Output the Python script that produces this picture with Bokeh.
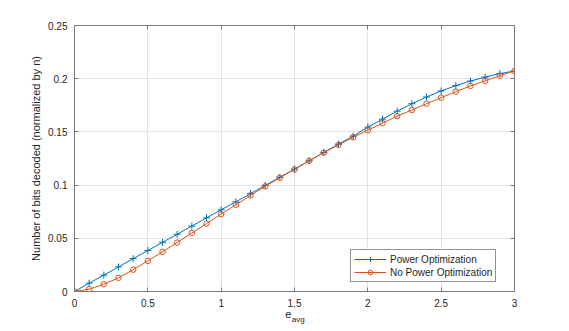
from bokeh.plotting import figure
from bokeh.models import Range1d, FixedTicker, LinearAxis, Legend, LegendItem
from bokeh.embed import file_html
from bokeh.resources import INLINE

e_avg = [0.0, 0.1, 0.2, 0.3, 0.4, 0.5, 0.6, 0.7, 0.8, 0.9, 1.0, 1.1, 1.2, 1.3, 1.4, 1.5,
         1.6, 1.7, 1.8, 1.9, 2.0, 2.1, 2.2, 2.3, 2.4, 2.5, 2.6, 2.7, 2.8, 2.9, 3.0]
power_opt = [0.0, 0.0078, 0.0154, 0.0231, 0.0309, 0.0385, 0.0462, 0.0538, 0.0615, 0.0692,
             0.0768, 0.0843, 0.0920, 0.0997, 0.1074, 0.1150, 0.1228, 0.1307, 0.1385, 0.1460,
             0.1545, 0.1620, 0.1695, 0.1765, 0.1828, 0.1885, 0.1935, 0.1978, 0.2015, 0.2048, 0.2073]
no_power_opt = [0.0, 0.0022, 0.0068, 0.0128, 0.0205, 0.0288, 0.0373, 0.0460, 0.0550, 0.0638,
                0.0727, 0.0815, 0.0903, 0.0988, 0.1070, 0.1148, 0.1228, 0.1305, 0.1378, 0.1450,
                0.1516, 0.1582, 0.1648, 0.1706, 0.1765, 0.1822, 0.1878, 0.1932, 0.1980, 0.2028, 0.2073]
x_ticks = [0, 0.5, 1, 1.5, 2, 2.5, 3]
x_tick_labels = ["0", "0.5", "1", "1.5", "2", "2.5", "3"]
y_ticks = [0, 0.05, 0.1, 0.15, 0.2, 0.25]
y_tick_labels = ["0", "0.05", "0.1", "0.15", "0.2", "0.25"]
x_label_main = "e"
x_label_sub = "avg"

FONT = "Liberation Sans"
BLUE = "#0072BD"
ORANGE = "#D95319"
AXIS_COLOR = "#7a7a7a"
TEXT_COLOR = "#262626"

p = figure(frame_width=440, frame_height=266, output_backend="svg", toolbar_location=None,
           x_range=Range1d(0, 3), y_range=Range1d(0, 0.25),
           min_border_left=74, min_border_right=47, min_border_top=25, min_border_bottom=10)
p.outline_line_color = None
p.background_fill_color = "white"
p.border_fill_color = "white"

for g in (p.xgrid, p.ygrid):
    g.grid_line_color = "#e3e3e3"
    g.grid_line_width = 1
p.xgrid.ticker = FixedTicker(ticks=x_ticks)
p.ygrid.ticker = FixedTicker(ticks=y_ticks)

def style_axis(ax, ticks, labels, show_labels=True):
    ax.ticker = FixedTicker(ticks=ticks)
    ax.major_label_overrides = {t: l for t, l in zip(ticks, labels)}
    ax.axis_line_color = AXIS_COLOR
    ax.major_tick_line_color = AXIS_COLOR
    ax.major_tick_in = 4
    ax.major_tick_out = 0
    ax.minor_tick_line_color = None
    ax.major_label_text_font = FONT
    ax.major_label_text_font_size = "10px"
    ax.major_label_text_color = TEXT_COLOR
    if not show_labels:
        ax.major_label_text_alpha = 0
        ax.major_label_text_font_size = "1px"
        ax.major_label_standoff = 0

style_axis(p.xaxis[0], x_ticks, x_tick_labels)
style_axis(p.yaxis[0], y_ticks, y_tick_labels)
p.xaxis[0].major_label_standoff = 7
p.yaxis[0].major_label_standoff = 7
p.yaxis[0].axis_label = "Number of bits decoded (normalized by n)"
p.yaxis[0].axis_label_text_font = FONT
p.yaxis[0].axis_label_text_font_size = "11px"
p.yaxis[0].axis_label_text_font_style = "normal"
p.yaxis[0].axis_label_text_color = TEXT_COLOR
p.yaxis[0].axis_label_standoff = 3

top = LinearAxis()
right = LinearAxis()
style_axis(top, x_ticks, x_tick_labels, show_labels=False)
style_axis(right, y_ticks, y_tick_labels, show_labels=False)
p.add_layout(top, "above")
p.add_layout(right, "right")

# x label "e" with subscript "avg", drawn as tick labels of two bare axes below
def label_axis(xpos, text, size, standoff):
    ax = LinearAxis(ticker=FixedTicker(ticks=[xpos]), major_label_overrides={xpos: text})
    ax.axis_line_color = None
    ax.major_tick_line_color = None
    ax.minor_tick_line_color = None
    ax.major_tick_in = 0
    ax.major_tick_out = 0
    ax.major_label_text_font = FONT
    ax.major_label_text_font_size = size
    ax.major_label_text_color = TEXT_COLOR
    ax.major_label_standoff = standoff
    return ax

p.add_layout(label_axis(1.457, x_label_main, "11px", 0), "below")
p.add_layout(label_axis(1.525, x_label_sub, "8px", -6), "below")

l1 = p.line(e_avg, power_opt, line_color=BLUE, line_width=1)
m1 = p.scatter(e_avg, power_opt, marker="cross", size=7, line_color=BLUE, line_width=1)
l2 = p.line(e_avg, no_power_opt, line_color=ORANGE, line_width=1)
m2 = p.scatter(e_avg, no_power_opt, marker="circle", size=5.5, line_color=ORANGE,
               fill_color=None, line_width=1)

legend = Legend(items=[LegendItem(label="Power Optimization", renderers=[l1, m1]),
                       LegendItem(label="No Power Optimization", renderers=[l2, m2])],
                location=(276, 9))
legend.label_text_font = FONT
legend.label_text_font_size = "10px"
legend.label_text_color = TEXT_COLOR
legend.glyph_width = 32
legend.glyph_height = 12
legend.label_height = 12
legend.label_standoff = 4
legend.spacing = 1
legend.padding = 3
legend.margin = 0
legend.border_line_color = "#262626"
legend.border_line_width = 1
legend.background_fill_color = "white"
legend.background_fill_alpha = 1
p.add_layout(legend)

open("out.html", "w").write(file_html(p, INLINE))
